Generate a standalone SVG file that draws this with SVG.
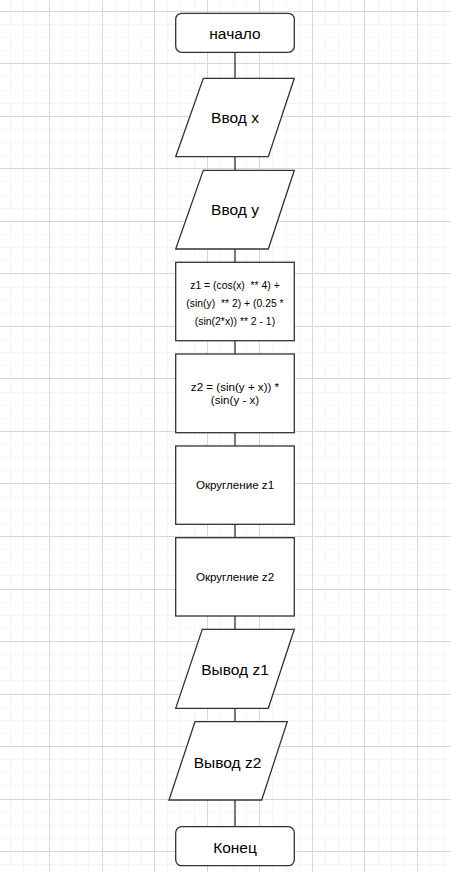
<svg xmlns="http://www.w3.org/2000/svg" width="451" height="872" viewBox="0 0 451 872">
<style>
.shape{fill:#ffffff;stroke:#333333;stroke-width:1.3}
.conn{fill:none;stroke:#333333;stroke-width:1.3}
.minor{fill:none;stroke:#f5f5f5;stroke-width:1}
.major{fill:none;stroke:#d7d7d7;stroke-width:1}
text{font-family:"Liberation Sans",Arial,sans-serif;fill:#000000;text-anchor:middle}
.big{font-size:15.5px}
.mid{font-size:11.6px}
.sml{font-size:10.4px;white-space:pre}
</style>
<rect width="451" height="872" fill="#ffffff"/>
<g id="grid">
<path class="minor" d="M10.5 0V872M23.5 0V872M36.5 0V872M62.5 0V872M75.5 0V872M88.5 0V872M115.5 0V872M128.5 0V872M141.5 0V872M167.5 0V872M180.5 0V872M194.5 0V872M220.5 0V872M233.5 0V872M246.5 0V872M272.5 0V872M286.5 0V872M299.5 0V872M325.5 0V872M338.5 0V872M351.5 0V872M378.5 0V872M391.5 0V872M404.5 0V872M430.5 0V872M443.5 0V872
M0 24.5H451M0 37.5H451M0 50.5H451M0 76.5H451M0 90.5H451M0 103.5H451M0 129.5H451M0 142.5H451M0 155.5H451M0 181.5H451M0 195.5H451M0 208.5H451M0 234.5H451M0 247.5H451M0 260.5H451M0 287.5H451M0 300.5H451M0 313.5H451M0 339.5H451M0 352.5H451M0 365.5H451M0 392.5H451M0 405.5H451M0 418.5H451M0 444.5H451M0 457.5H451M0 470.5H451M0 497.5H451M0 510.5H451M0 523.5H451M0 549.5H451M0 562.5H451M0 575.5H451M0 602.5H451M0 615.5H451M0 628.5H451M0 654.5H451M0 667.5H451M0 680.5H451M0 707.5H451M0 720.5H451M0 733.5H451M0 759.5H451M0 772.5H451M0 785.5H451M0 812.5H451M0 825.5H451M0 838.5H451M0 864.5H451"/>
<path class="major" d="M49.5 0V872M102.5 0V872M154.5 0V872M207.5 0V872M259.5 0V872M312.5 0V872M364.5 0V872M417.5 0V872
M0 11.5H451M0 63.5H451M0 116.5H451M0 168.5H451M0 221.5H451M0 273.5H451M0 326.5H451M0 378.5H451M0 431.5H451M0 483.5H451M0 536.5H451M0 589.5H451M0 641.5H451M0 694.5H451M0 746.5H451M0 799.5H451M0 851.5H451"/>
</g>
<g id="connectors">
<path class="conn" d="M235 52.3V78.3M235 156.7V170.3M235 249V262.3M235 340.7V354M235 432.7V446M235 524.3V537.7M235 616V629.3M235 708.3V721.7M235 800V826.7"/>
</g>
<g id="start">
<rect class="shape" x="175.7" y="13.3" width="118.6" height="39" rx="6"/>
<text class="big" x="235" y="39">начало</text>
</g>
<g id="input-x">
<polygon class="shape" points="203.3,78.3 294.3,78.3 268.3,156.7 175.7,156.7"/>
<text class="big" x="235" y="123">Ввод x</text>
</g>
<g id="input-y">
<polygon class="shape" points="203.3,170.3 294.3,170.3 268.3,249 175.7,249"/>
<text class="big" x="235" y="215">Ввод y</text>
</g>
<g id="calc-z1">
<rect class="shape" x="175.7" y="262.3" width="118.6" height="78.4"/>
<text class="sml" x="235" y="288.5">z1 = (cos(x)  ** 4) +</text>
<text class="sml" x="235" y="306.5">(sin(y)  ** 2) + (0.25 *</text>
<text class="sml" x="235" y="324.5">(sin(2*x)) ** 2 - 1)</text>
</g>
<g id="calc-z2">
<rect class="shape" x="175.7" y="354" width="118.6" height="78.7"/>
<text class="mid" x="235" y="390.5">z2 = (sin(y + x)) *</text>
<text class="mid" x="235" y="404">(sin(y - x)</text>
</g>
<g id="round-z1">
<rect class="shape" x="175.7" y="446" width="118.6" height="78.3"/>
<text class="mid" x="235" y="488.5">Округление z1</text>
</g>
<g id="round-z2">
<rect class="shape" x="175.7" y="537.7" width="118.6" height="78.3"/>
<text class="mid" x="235" y="581">Округление z2</text>
</g>
<g id="output-z1">
<polygon class="shape" points="202.3,629.3 294.3,629.3 268.3,708.3 175.7,708.3"/>
<text class="big" x="235" y="674.5">Вывод z1</text>
</g>
<g id="output-z2">
<polygon class="shape" points="195,721.7 287.3,721.7 261.7,800 169,800"/>
<text class="big" x="227.5" y="768">Вывод z2</text>
</g>
<g id="end">
<rect class="shape" x="175.7" y="826.7" width="118.6" height="39" rx="6"/>
<text class="big" x="235" y="852.5">Конец</text>
</g>
</svg>
